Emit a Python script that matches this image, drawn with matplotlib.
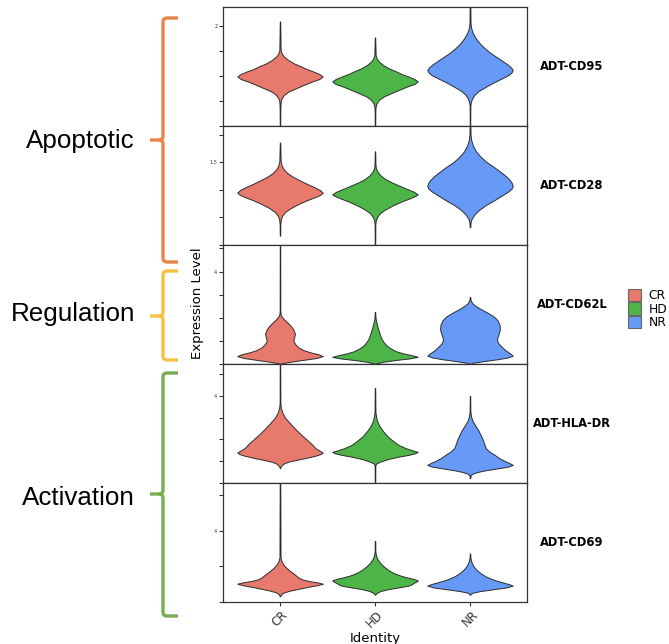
import matplotlib
matplotlib.use("Agg")
import matplotlib.pyplot as plt
from matplotlib.path import Path
from matplotlib.patches import PathPatch, Patch

# ---- data -------------------------------------------------------------
groups = ["CR", "HD", "NR"]
group_colors = ["#E8796D", "#4DB548", "#6699F8"]

markers = ["ADT-CD95", "ADT-CD28", "ADT-CD62L", "ADT-HLA-DR", "ADT-CD69"]
y_limits = [(0, 2.38), (0, 2.16), (0, 5.15), (0, 5.47), (0, 6.7)]
y_ticks = [[0, 0.5, 1.0, 1.5, 2.0], [0, 0.5, 1.0, 1.5, 2.0],
           [0, 1, 2, 3, 4, 5], [0, 1, 2, 3, 4, 5], [0, 2, 4, 6]]
y_ticklabels = [["", "", "", "", "2"], ["", "", "", "1.5", ""],
                ["", "", "", "", "4", ""], ["", "", "", "", "4", ""],
                ["", "", "4", ""]]

# density profiles: expression levels (y) and relative density (d)
cd95_y = {
    "CR": [0.0, 0.35, 0.49, 0.55, 0.62, 0.69, 0.75, 0.82, 0.89, 0.94, 0.99, 1.04,
           1.09, 1.14, 1.19, 1.25, 1.32, 1.39, 1.45, 1.52, 2.09],
    "HD": [0.0, 0.33, 0.39, 0.45, 0.52, 0.59, 0.65, 0.72, 0.79, 0.84, 0.89, 0.94,
           0.99, 1.04, 1.09, 1.15, 1.22, 1.29, 1.35, 1.42, 1.77],
    "NR": [0.0, 0.40, 0.48, 0.55, 0.62, 0.70, 0.78, 0.87, 0.95, 1.02, 1.07, 1.12,
           1.17, 1.23, 1.30, 1.38, 1.46, 1.55, 1.65, 1.75, 1.85, 1.95, 2.05, 2.60],
}
cd95_d = {
    "CR": [0.005, 0.008, 0.015, 0.035, 0.09, 0.2, 0.36, 0.55, 0.75, 0.92, 1.0, 0.92,
           0.78, 0.62, 0.5, 0.33, 0.19, 0.09, 0.04, 0.015, 0.005],
    "HD": [0.005, 0.008, 0.015, 0.035, 0.09, 0.2, 0.36, 0.55, 0.75, 0.92, 1.0, 0.92,
           0.78, 0.62, 0.5, 0.33, 0.19, 0.09, 0.04, 0.015, 0.005],
    "NR": [0.005, 0.008, 0.02, 0.05, 0.1, 0.2, 0.36, 0.55, 0.74, 0.9, 0.97, 1.0,
           0.96, 0.88, 0.76, 0.62, 0.48, 0.35, 0.23, 0.14, 0.07, 0.03, 0.012, 0.005],
}
cd28_y = {
    "CR": [0.17, 0.38, 0.47, 0.53, 0.60, 0.67, 0.74, 0.81, 0.87, 0.91, 0.95, 1.00,
           1.05, 1.11, 1.17, 1.23, 1.30, 1.37, 1.44, 1.52, 1.86],
    "HD": [0.0, 0.38, 0.45, 0.51, 0.58, 0.65, 0.72, 0.79, 0.85, 0.89, 0.92, 0.97,
           1.02, 1.08, 1.14, 1.20, 1.27, 1.34, 1.40, 1.47, 1.70],
    "NR": [0.32, 0.42, 0.48, 0.55, 0.63, 0.72, 0.81, 0.90, 0.97, 1.02, 1.07, 1.12,
           1.18, 1.25, 1.33, 1.42, 1.51, 1.60, 1.70, 1.80, 1.90, 2.00, 2.40],
}
cd28_d = {
    "CR": [0.005, 0.008, 0.02, 0.05, 0.12, 0.25, 0.42, 0.62, 0.82, 0.94, 1.0, 0.93,
           0.8, 0.63, 0.47, 0.32, 0.18, 0.09, 0.04, 0.015, 0.005],
    "HD": [0.005, 0.008, 0.02, 0.05, 0.12, 0.25, 0.42, 0.62, 0.82, 0.94, 1.0, 0.9,
           0.74, 0.56, 0.38, 0.23, 0.12, 0.05, 0.02, 0.01, 0.005],
    "NR": [0.005, 0.015, 0.04, 0.1, 0.2, 0.36, 0.56, 0.75, 0.89, 0.97, 1.0, 0.98,
           0.93, 0.84, 0.71, 0.55, 0.38, 0.25, 0.14, 0.07, 0.03, 0.012, 0.005],
}
cd62l_y = {
    "CR": [0.0, 0.04, 0.10, 0.18, 0.26, 0.34, 0.42, 0.50, 0.60, 0.72, 0.85, 1.00,
           1.15, 1.32, 1.50, 1.65, 1.80, 1.92, 2.05, 2.15, 2.30, 6.0],
    "HD": [0.0, 0.03, 0.10, 0.17, 0.24, 0.31, 0.38, 0.46, 0.56, 0.68, 0.80, 0.95,
           1.10, 1.30, 1.50, 1.70, 1.90, 2.05, 2.25],
    "NR": [0.0, 0.05, 0.12, 0.20, 0.28, 0.36, 0.44, 0.53, 0.64, 0.75, 0.88, 1.03,
           1.15, 1.30, 1.50, 1.70, 1.90, 2.05, 2.20, 2.35, 2.50, 2.62, 2.75, 2.90],
}
cd62l_d = {
    "CR": [0.005, 0.06, 0.25, 0.55, 0.85, 1.0, 0.9, 0.72, 0.55, 0.43, 0.36, 0.31,
           0.33, 0.35, 0.31, 0.25, 0.17, 0.1, 0.04, 0.015, 0.007, 0.005],
    "HD": [0.005, 0.04, 0.2, 0.47, 0.8, 1.0, 0.86, 0.66, 0.48, 0.36, 0.27, 0.2,
           0.15, 0.11, 0.075, 0.045, 0.02, 0.01, 0.005],
    "NR": [0.005, 0.06, 0.3, 0.62, 0.88, 1.0, 0.95, 0.88, 0.8, 0.74, 0.67, 0.63,
           0.64, 0.67, 0.70, 0.69, 0.64, 0.56, 0.43, 0.28, 0.14, 0.06, 0.015, 0.005],
}
hladr_y = {
    "CR": [0.68, 0.75, 0.82, 0.91, 0.98, 1.06, 1.15, 1.25, 1.33, 1.40, 1.48, 1.60,
           1.83, 2.21, 2.50, 2.75, 3.00, 3.21, 3.44, 3.70, 6.0],
    "HD": [0.0, 0.82, 0.90, 0.98, 1.10, 1.21, 1.30, 1.37, 1.43, 1.50, 1.60, 1.75,
           1.95, 2.15, 2.40, 2.60, 2.80, 3.00, 3.25, 4.36],
    "NR": [0.22, 0.35, 0.42, 0.50, 0.58, 0.66, 0.75, 0.83, 0.92, 1.02, 1.15, 1.30,
           1.45, 1.60, 1.75, 1.98, 2.20, 2.44, 2.65, 2.85, 3.05, 3.30, 4.0],
}
hladr_d = {
    "CR": [0.005, 0.015, 0.04, 0.1, 0.2, 0.38, 0.6, 0.82, 0.95, 1.0, 0.93, 0.83,
           0.72, 0.5, 0.35, 0.23, 0.12, 0.06, 0.02, 0.008, 0.005],
    "HD": [0.005, 0.008, 0.03, 0.12, 0.3, 0.55, 0.8, 0.94, 1.0, 0.88, 0.72, 0.55,
           0.41, 0.29, 0.18, 0.11, 0.06, 0.03, 0.01, 0.005],
    "NR": [0.005, 0.015, 0.05, 0.16, 0.35, 0.6, 0.88, 1.0, 0.92, 0.8, 0.68, 0.57,
           0.45, 0.37, 0.34, 0.3, 0.25, 0.19, 0.12, 0.06, 0.025, 0.008, 0.005],
}
cd69_y = {
    "CR": [0.32, 0.45, 0.55, 0.65, 0.75, 0.85, 0.95, 1.03, 1.10, 1.18, 1.27, 1.38,
           1.54, 1.72, 1.92, 2.10, 2.30, 2.50, 8.0],
    "HD": [0.41, 0.52, 0.62, 0.72, 0.82, 0.92, 1.00, 1.07, 1.15, 1.22, 1.30, 1.40,
           1.52, 1.66, 1.82, 2.01, 2.20, 2.40, 2.60, 2.85, 3.43],
    "NR": [0.41, 0.52, 0.62, 0.72, 0.82, 0.92, 1.00, 1.08, 1.18, 1.30, 1.45, 1.60,
           1.75, 1.92, 2.11, 2.30, 2.50, 2.73],
}
cd69_d = {
    "CR": [0.005, 0.03, 0.1, 0.25, 0.45, 0.65, 0.88, 1.0, 0.88, 0.68, 0.52, 0.43,
           0.35, 0.25, 0.15, 0.08, 0.035, 0.012, 0.005],
    "HD": [0.005, 0.04, 0.13, 0.3, 0.55, 0.78, 0.86, 0.9, 0.97, 1.0, 0.9, 0.72,
           0.55, 0.41, 0.3, 0.2, 0.12, 0.06, 0.025, 0.008, 0.005],
    "NR": [0.005, 0.05, 0.25, 0.55, 0.85, 1.0, 0.92, 0.8, 0.65, 0.5, 0.36, 0.26,
           0.18, 0.11, 0.06, 0.025, 0.01, 0.005],
}
profiles = [(cd95_y, cd95_d), (cd28_y, cd28_d), (cd62l_y, cd62l_d),
            (hladr_y, hladr_d), (cd69_y, cd69_d)]

categories = ["Apoptotic", "Regulation", "Activation"]
category_colors = ["#E8844A", "#F5C243", "#78AD52"]
category_spans = [(18, 140, 262), (271, 316, 360), (373, 494, 616)]
category_baselines = [148, 321, 505]

# ---- layout -----------------------------------------------------------
W, H = 669, 644
fig = plt.figure(figsize=(W / 100, H / 100), dpi=100)

def fx(x):
    return x / W

def fy(y):
    return 1 - y / H

left_px, right_px, top_px, panel_px = 223, 527, 7, 119
positions = [1, 2, 3]
spine_color = "#333333"

for i, marker in enumerate(markers):
    ax = fig.add_axes([fx(left_px), fy(top_px + panel_px * (i + 1)),
                       (right_px - left_px) / W, panel_px / H])
    ys, ds = profiles[i]
    stats = []
    for g in groups:
        y = ys[g]
        d = ds[g]
        stats.append(dict(coords=y, vals=d, mean=y[0], median=y[0],
                          min=y[0], max=y[-1]))
    parts = ax.violin(stats, positions=positions, widths=0.9,
                      showmeans=False, showextrema=False, showmedians=False)
    for body, col in zip(parts["bodies"], group_colors):
        body.set_facecolor(col)
        body.set_edgecolor("#2b2b2b")
        body.set_linewidth(0.7)
        body.set_alpha(1)
    ax.set_xlim(0.4, 3.6)
    ax.set_ylim(*y_limits[i])
    ax.set_yticks(y_ticks[i])
    ax.set_yticklabels(y_ticklabels[i])
    ax.set_xticks(positions)
    ax.tick_params(axis="both", direction="out", length=2.6, width=0.8,
                   color=spine_color, labelsize=3.6, pad=1.5,
                   labelcolor="#333333")
    for sp in ax.spines.values():
        sp.set_color(spine_color)
        sp.set_linewidth(0.9)
    if i < len(markers) - 1:
        ax.set_xticklabels([])
    else:
        ax.set_xticklabels(groups, rotation=45, ha="center", fontsize=8.5)
        ax.tick_params(axis="x", labelsize=8.5, pad=2)
        ax.set_xlabel("Identity", fontsize=9.5, labelpad=1)
    fig.text(fx(572), fy(top_px + panel_px * i + panel_px / 2), marker,
             ha="center", va="center", fontsize=8.3, fontweight="bold")

fig.text(fx(197), fy(303), "Expression Level", rotation=90,
         ha="center", va="center", fontsize=9.5)

# legend
handles = [Patch(facecolor=c, edgecolor="#666666", linewidth=0.8) for c in group_colors]
fig.legend(handles, groups, loc="center left",
           bbox_to_anchor=(fx(628), fy(309)), frameon=False,
           handlelength=1.1, handleheight=1.15, labelspacing=0.05,
           handletextpad=0.6, fontsize=8.8, borderpad=0, borderaxespad=0)

# category braces on the left
def brace(top, mid, bot, color):
    x0, xe, xn, r = 163, 178, 150, 4
    pts = [(xe, top), (x0 + r, top), (x0, top), (x0, top + r),
           (x0, mid - r), (x0, mid), (x0 - r, mid), (xn, mid),
           (x0 - r, mid), (x0, mid), (x0, mid + r),
           (x0, bot - r), (x0, bot), (x0 + r, bot), (xe, bot)]
    codes = [Path.MOVETO, Path.LINETO, Path.CURVE3, Path.CURVE3,
             Path.LINETO, Path.CURVE3, Path.CURVE3, Path.LINETO,
             Path.MOVETO, Path.CURVE3, Path.CURVE3,
             Path.LINETO, Path.CURVE3, Path.CURVE3, Path.LINETO]
    verts = [(fx(x), fy(y)) for x, y in pts]
    patch = PathPatch(Path(verts, codes), fill=False, edgecolor=color,
                      linewidth=2.4, capstyle="butt", joinstyle="round",
                      transform=fig.transFigure)
    fig.add_artist(patch)

for name, col, span, base in zip(categories, category_colors,
                                 category_spans, category_baselines):
    brace(*span, col)
    fig.text(fx(135), fy(base), name, ha="right", va="baseline",
             fontsize=18.7, family=["Liberation Sans", "DejaVu Sans"])

fig.savefig("out.png", dpi=100)
